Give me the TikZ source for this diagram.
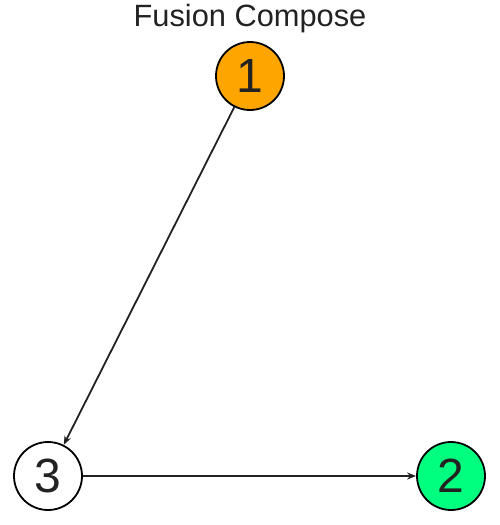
\documentclass[tikz,border=0pt]{standalone}
\usepackage{fontspec}
\setmainfont{Liberation Sans}
\usetikzlibrary{arrows.meta, positioning}
\definecolor{nodeorange}{HTML}{FFA500}
\definecolor{nodegreen}{HTML}{00FF7F}
\definecolor{inkgray}{HTML}{222222}

\begin{document}
\begin{tikzpicture}[
    x=1pt, y=-1pt,
    vertex/.style={circle, minimum size=68pt, inner sep=0pt, draw=black, line width=1.8pt, text=inkgray, font=\fontsize{48}{48}\selectfont},
    arrow/.style={-{Stealth[length=9pt, width=7pt]}, line width=1.8pt, draw=inkgray},
    title_label/.style={text=inkgray, font=\fontsize{30.8}{31}\selectfont}
]
\useasboundingbox (0,0) rectangle (499,525);

% Title
\node (title) [title_label] at (250,19) {Fusion Compose};

% Vertices
\node (one) [vertex, fill=nodeorange] at (250,76) {1};
\node (three) [vertex, fill=white] at (48,476) {3};
\node (two) [vertex, fill=nodegreen] at (451,476) {2};

% Arrows
\draw [arrow] (one) -- (three);
\draw [arrow] (three) -- (two);

\end{tikzpicture}
\end{document}
